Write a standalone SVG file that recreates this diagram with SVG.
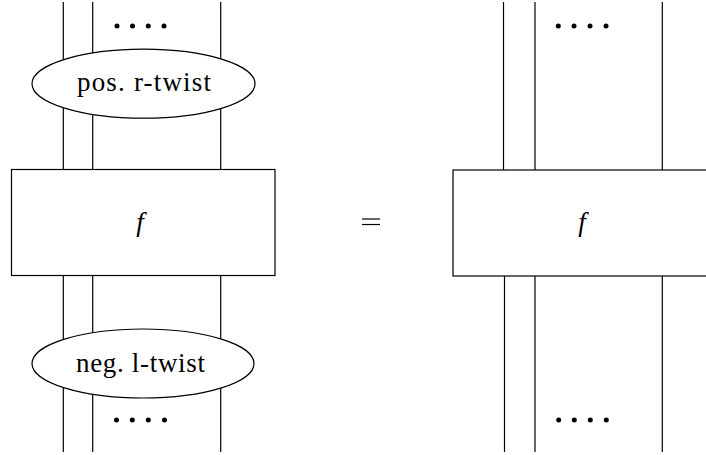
<svg xmlns="http://www.w3.org/2000/svg" width="706" height="455" viewBox="0 0 706 455">
<style>
.w{stroke:#000;stroke-width:1.2;fill:none}
.n{stroke:#000;stroke-width:1.2;fill:#fff}
.t{font-size:27px;fill:#000}
.f{font-size:27px;font-style:italic;fill:#000}
.d{fill:#000}
</style>
<g id="connectors">
<line class="w" x1="63.3" y1="2" x2="63.3" y2="452"/>
<line class="w" x1="92.7" y1="2" x2="92.7" y2="452"/>
<line class="w" x1="220.7" y1="2" x2="220.7" y2="452"/>
<line class="w" x1="503.5" y1="2" x2="503.5" y2="170"/>
<line class="w" x1="504.5" y1="276" x2="504.5" y2="452"/>
<line class="w" x1="535" y1="2" x2="535" y2="452"/>
<line class="w" x1="662.3" y1="2" x2="662.3" y2="452"/>
</g>
<g id="dots-left-top">
<circle class="d" cx="117" cy="26" r="2.5"/><circle class="d" cx="132.5" cy="26" r="2.5"/><circle class="d" cx="148.3" cy="26" r="2.5"/><circle class="d" cx="164" cy="26" r="2.5"/>
</g>
<g id="dots-left-bottom">
<circle class="d" cx="116.5" cy="420" r="2.5"/><circle class="d" cx="132.3" cy="420" r="2.5"/><circle class="d" cx="148.3" cy="420" r="2.5"/><circle class="d" cx="164.5" cy="420" r="2.5"/>
</g>
<g id="dots-right-top">
<circle class="d" cx="558.3" cy="26" r="2.5"/><circle class="d" cx="574" cy="26" r="2.5"/><circle class="d" cx="590" cy="26" r="2.5"/><circle class="d" cx="606" cy="26" r="2.5"/>
</g>
<g id="dots-right-bottom">
<circle class="d" cx="558.7" cy="420" r="2.5"/><circle class="d" cx="574.3" cy="420" r="2.5"/><circle class="d" cx="590.3" cy="420" r="2.5"/><circle class="d" cx="606.3" cy="420" r="2.5"/>
</g>
<g id="pos-r-twist">
<ellipse class="n" cx="143.5" cy="83.7" rx="111.5" ry="34.5"/>
<text class="t" font-family="'Liberation Serif', 'DejaVu Serif', serif" x="144" y="91" text-anchor="middle" textLength="134" lengthAdjust="spacing">pos.  r-twist</text>
</g>
<g id="neg-l-twist">
<ellipse class="n" cx="143" cy="363.5" rx="111" ry="34.5"/>
<text class="t" font-family="'Liberation Serif', 'DejaVu Serif', serif" x="140.5" y="371.5" text-anchor="middle" textLength="129" lengthAdjust="spacing">neg.  l-twist</text>
</g>
<g id="box-f-left">
<rect class="n" x="11.5" y="169.5" width="263.5" height="106"/>
<text class="f" font-family="'Liberation Serif', 'DejaVu Serif', serif" x="140" y="231" text-anchor="middle">f</text>
</g>
<g id="box-f-right">
<rect class="n" x="453" y="170" width="270" height="106"/>
<text class="f" font-family="'Liberation Serif', 'DejaVu Serif', serif" x="582" y="231" text-anchor="middle">f</text>
</g>
<g id="equals">
<line class="w" x1="362" y1="219" x2="380" y2="219"/>
<line class="w" x1="362" y1="224.5" x2="380" y2="224.5"/>
</g>
</svg>
